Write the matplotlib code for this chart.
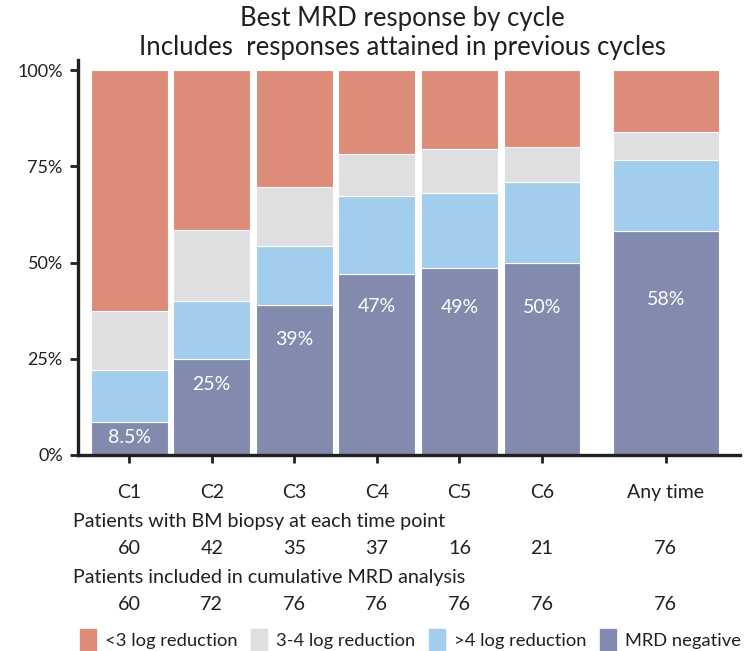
import numpy as np
import matplotlib.pyplot as plt
from matplotlib.patches import Patch
from matplotlib.transforms import blended_transform_factory

plt.rcParams['font.family'] = ['Lato', 'DejaVu Sans']

# data
cycles = ['C1', 'C2', 'C3', 'C4', 'C5', 'C6', 'Any time']
mrd_neg = [8.5, 25, 39, 47, 48.5, 49.8, 58.2]
gt4_log = [13.6, 15.1, 15.3, 20.3, 19.6, 21.2, 18.3]
log34 = [15.4, 18.3, 15.3, 10.9, 11.3, 9.1, 7.4]
lt3_log = [62.5, 41.6, 30.4, 21.8, 20.6, 19.9, 16.1]
mrd_labels = ['8.5%', '25%', '39%', '47%', '49%', '50%', '58%']
label_y = [4.5, 18.2, 30.0, 38.7, 38.4, 38.4, 40.3]
biopsy_n = [60, 42, 35, 37, 16, 21, 76]
cumulative_n = [60, 72, 76, 76, 76, 76, 76]

colors = {'<3 log reduction': '#DC8C78', '3-4 log reduction': '#DFDFE1',
          '>4 log reduction': '#A2CDEC', 'MRD negative': '#828BAE'}
txt = '#231F20'

x = np.array([0, 1, 2, 3, 4, 5, 6.5])
w = np.array([0.93] * 6 + [1.28])

fig = plt.figure(figsize=(7.46, 6.51), dpi=100)
ax = fig.add_axes([0.1046, 0.3011, 0.8874, 0.6067])

bottom = np.zeros(len(x))
for vals, name in [(mrd_neg, 'MRD negative'), (gt4_log, '>4 log reduction'),
                   (log34, '3-4 log reduction'), (lt3_log, '<3 log reduction')]:
    ax.bar(x, vals, width=w, bottom=bottom, color=colors[name],
           edgecolor='white', linewidth=0.8)
    bottom += np.array(vals)

for xi, lab, yy in zip(x, mrd_labels, label_y):
    ax.text(xi, yy, lab, ha='center', va='center', color='white', fontsize=14)

ax.set_xlim(-0.62, 7.4)
ax.set_ylim(0, 102.6)
ax.set_yticks([0, 25, 50, 75, 100])
ax.set_yticklabels(['0%', '25%', '50%', '75%', '100%'])
ax.set_xticks(x)
ax.set_xticklabels(cycles)
ax.tick_params(axis='y', length=6, width=2, labelsize=13, colors=txt, pad=5)
ax.tick_params(axis='x', length=6, width=2, labelsize=14, colors=txt, pad=15)
for s in ['top', 'right']:
    ax.spines[s].set_visible(False)
for s in ['left', 'bottom']:
    ax.spines[s].set_linewidth(2.4)
    ax.spines[s].set_color(txt)

ax.set_title('Best MRD response by cycle\nIncludes  responses attained in previous cycles',
             fontsize=18.5, color=txt, linespacing=1.2, pad=-3, x=0.49)

# table below the chart
tr = blended_transform_factory(ax.transData, fig.transFigure)
fig.text(0.098, 1 - 522 / 651, 'Patients with BM biopsy at each time point',
         fontsize=14.2, color=txt, va='center')
fig.text(0.098, 1 - 578 / 651, 'Patients included in cumulative MRD analysis',
         fontsize=14.2, color=txt, va='center')
for xi, a, b in zip(x, biopsy_n, cumulative_n):
    ax.text(xi, 1 - 548 / 651, str(a), transform=tr, ha='center', va='center',
            fontsize=14.2, color=txt)
    ax.text(xi, 1 - 605 / 651, str(b), transform=tr, ha='center', va='center',
            fontsize=14.2, color=txt)

handles = [Patch(color=c, label=k) for k, c in colors.items()]
fig.legend(handles=handles, ncol=4, loc='center left', bbox_to_anchor=(0.097, 1 - 640 / 651),
           frameon=False, fontsize=13.2, handlelength=0.9, handleheight=1.4,
           handletextpad=0.5, columnspacing=0.7, borderaxespad=0, labelcolor=txt)

fig.savefig('out.png', dpi=100)
